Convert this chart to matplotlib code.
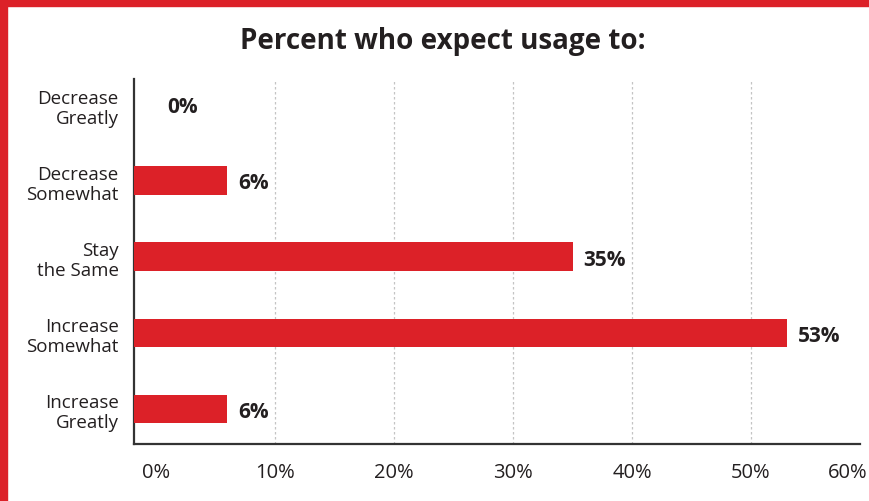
import matplotlib
matplotlib.use("Agg")
import matplotlib.pyplot as plt
from matplotlib.patches import Rectangle
from matplotlib.transforms import ScaledTranslation

plt.rcParams['font.family'] = ['Open Sans', 'DejaVu Sans']

categories = ["Decrease\nGreatly", "Decrease\nSomewhat", "Stay\nthe Same",
              "Increase\nSomewhat", "Increase\nGreatly"]
values = [0, 6, 35, 53, 6]
value_labels = ["0%", "6%", "35%", "53%", "6%"]
xticks = [0, 10, 20, 30, 40, 50, 60]
xtick_labels = ["0%", "10%", "20%", "30%", "40%", "50%", "60%"]

red = "#DC2128"
dark = "#231F20"

fig = plt.figure(figsize=(8.69, 5.02), dpi=100)
# axes runs from x=134px to 870px, y=80px to 445px
ax = fig.add_axes([134 / 869, 1 - 445 / 502, (870 - 134) / 869, (445 - 80) / 502])

xmin, xmax = -1.85, 60.0
ypos = list(range(len(categories)))
# bars grow from the y axis line; a 0% answer gets no bar
widths = [v - xmin if v > 0 else 0 for v in values]
ax.barh(ypos, widths, left=xmin, height=0.38, color=red, zorder=3)
for y, v, lab in zip(ypos, values, value_labels):
    ax.annotate(lab, (v, y), xytext=(8, -1.5), textcoords="offset points",
                ha="left", va="center", fontsize=15, fontweight="bold", color=dark)

ax.set_xlim(xmin, xmax)
ax.set_ylim(4.46, -0.34)
ax.set_yticks(ypos)
ax.set_yticklabels(categories, fontsize=13.5, color=dark, linespacing=1.12)
ax.set_xticks(xticks)
ax.set_xticklabels(xtick_labels, fontsize=14.5, color=dark)
ax.tick_params(axis="y", length=0, pad=11)
ax.tick_params(axis="x", length=0, pad=13)

# last label sits at the right edge of the picture
last = ax.get_xticklabels()[-1]
last.set_ha("right")
last.set_transform(last.get_transform() + ScaledTranslation(-2 / 72, 0, fig.dpi_scale_trans))

for g in xticks[1:-1]:
    ax.axvline(g, color="#C4C4C4", lw=0.9, ls=(0, (2, 2)), zorder=1)

for s in ["top", "right"]:
    ax.spines[s].set_visible(False)
ax.spines["bottom"].set_bounds(xmin, 59.15)
ax.spines["left"].set_color("#333333")
ax.spines["bottom"].set_color("#333333")
ax.spines["left"].set_linewidth(1.6)
ax.spines["bottom"].set_linewidth(1.6)

fig.text(443 / 869, 1 - 41 / 502, "Percent who expect usage to:", ha="center", va="center",
         fontsize=20, fontweight="bold", color=dark)

# red frame on left and top
fig.patches.append(Rectangle((0, 0), 7 / 869, 1, transform=fig.transFigure, color=red))
fig.patches.append(Rectangle((0, 1 - 7 / 502), 1, 7 / 502, transform=fig.transFigure, color=red))

fig.savefig("out.png", dpi=100)
